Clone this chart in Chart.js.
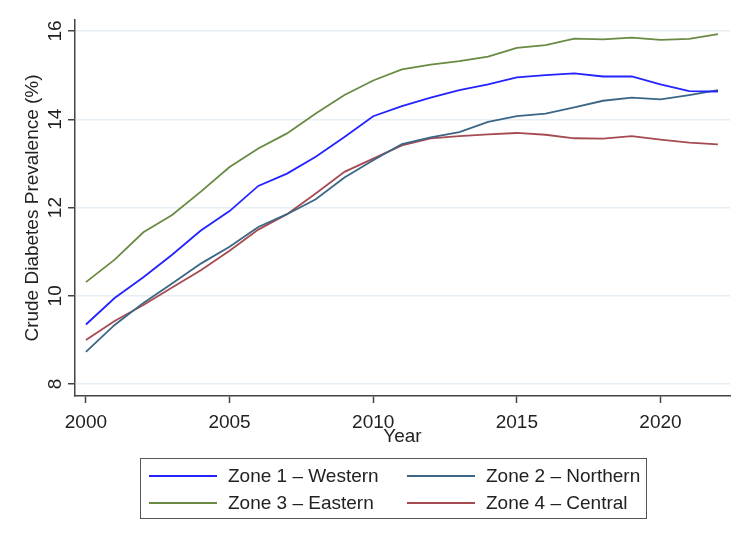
<!DOCTYPE html>
<html>
<head>
<meta charset="utf-8">
<script src="https://cdn.jsdelivr.net/npm/chart.js@4/dist/chart.umd.min.js"></script>
<style>
  html, body { margin: 0; padding: 0; background: #ffffff; }
  #wrap { position: relative; width: 750px; height: 546px; font-family: "Liberation Sans", Arial, sans-serif; color: #222; }
  #c { position: absolute; left: 0; top: 0; }
  #legend { position: absolute; left: 140px; top: 458px; width: 505px; height: 59px; border: 1.5px solid #555; box-sizing: content-box; }
  .sw { position: absolute; width: 68px; height: 2px; }
  .lt { position: absolute; font-size: 19px; line-height: 22px; white-space: nowrap; color: #222; }
</style>
</head>
<body>
<div id="wrap">
  <canvas id="c" width="750" height="546"></canvas>
  <div id="legend"></div>
</div>
<script>
const years = [2000,2001,2002,2003,2004,2005,2006,2007,2008,2009,2010,2011,2012,2013,2014,2015,2016,2017,2018,2019,2020,2021,2022];
const zone1Western  = [9.35, 9.95, 10.42, 10.93, 11.48, 11.92, 12.49, 12.77, 13.15, 13.60, 14.07, 14.30, 14.49, 14.66, 14.79, 14.95, 15.00, 15.04, 14.97, 14.97, 14.79, 14.64, 14.63];
const zone2Northern = [8.73, 9.34, 9.84, 10.28, 10.73, 11.11, 11.56, 11.85, 12.19, 12.68, 13.07, 13.44, 13.59, 13.71, 13.94, 14.07, 14.13, 14.27, 14.42, 14.49, 14.45, 14.55, 14.66];
const zone3Eastern  = [10.31, 10.82, 11.44, 11.83, 12.36, 12.92, 13.34, 13.68, 14.13, 14.55, 14.88, 15.13, 15.24, 15.32, 15.42, 15.62, 15.68, 15.83, 15.81, 15.85, 15.80, 15.82, 15.93];
const zone4Central  = [9.00, 9.43, 9.79, 10.19, 10.58, 11.02, 11.50, 11.85, 12.32, 12.81, 13.11, 13.41, 13.57, 13.62, 13.66, 13.69, 13.65, 13.57, 13.56, 13.62, 13.54, 13.47, 13.43];
const seriesLabels = ["Zone 1 \u2013 Western", "Zone 2 \u2013 Northern", "Zone 3 \u2013 Eastern", "Zone 4 \u2013 Central"];
const seriesColors = ["#2323ff", "#3b6686", "#6a8a44", "#a64a52"];
const xTicks = [2000, 2005, 2010, 2015, 2020];
const yTicks = [8, 10, 12, 14, 16];

const seriesValues = [zone1Western, zone2Northern, zone3Eastern, zone4Central];
const FONT = "'Liberation Sans', Arial, sans-serif";
const TXT = "#222";
const AX = "#444";

const datasets = seriesValues.map((vals, i) => ({
  label: seriesLabels[i],
  data: years.map((y, k) => ({ x: y, y: vals[k] })),
  borderColor: seriesColors[i],
  backgroundColor: seriesColors[i],
  borderWidth: 1.8,
  pointRadius: 0,
  tension: 0,
  fill: false
}));

new Chart(document.getElementById('c'), {
  type: 'line',
  data: { datasets },
  options: {
    responsive: false,
    animation: false,
    devicePixelRatio: 1,
    layout: { padding: { left: 0, right: 20, top: 20, bottom: 98 } },
    plugins: { legend: { display: false }, tooltip: { enabled: false } },
    scales: {
      x: {
        type: 'linear',
        min: 1999.62,
        max: 2022.42,
        afterBuildTicks: s => { s.ticks = xTicks.map(v => ({ value: v })); },
        afterFit: s => { s.height = 52; },
        grid: { drawOnChartArea: false, drawTicks: true, tickLength: 7, tickColor: AX, tickWidth: 1.5 },
        border: { display: true, color: AX, width: 1.5 },
        ticks: { color: TXT, font: { family: FONT, size: 19 }, padding: 8, maxRotation: 0, minRotation: 0, callback: v => String(v) },
        title: { display: true, text: 'Year', color: TXT, font: { family: FONT, size: 19 }, padding: 0 }
      },
      y: {
        type: 'linear',
        min: 7.73,
        max: 16.25,
        afterBuildTicks: s => { s.ticks = yTicks.map(v => ({ value: v })); },
        afterFit: s => { s.width = 75; },
        grid: { drawOnChartArea: true, color: '#e6eef4', lineWidth: 1.5, drawTicks: true, tickLength: 7, tickColor: AX, tickWidth: 1.5 },
        border: { display: true, color: AX, width: 1.5 },
        ticks: { color: TXT, font: { family: FONT, size: 19 }, padding: 2, minRotation: 90, maxRotation: 90, crossAlign: 'center', callback: v => String(v) },
        title: { display: true, text: 'Crude Diabetes Prevalence (%)', color: TXT, font: { family: FONT, size: 19 }, padding: { top: 21, bottom: 0 } }
      }
    }
  }
});

// Legend (HTML, built from the series arrays)
const legend = document.getElementById('legend');
const colX = [[8, 87], [266, 345]];   // [swatch left, text left] relative to legend box
const rowY = [17, 44];                 // swatch centre y relative to legend box
seriesLabels.forEach((lab, i) => {
  const col = i % 2, row = Math.floor(i / 2);
  const sw = document.createElement('div');
  sw.className = 'sw';
  sw.style.left = colX[col][0] + 'px';
  sw.style.top = (rowY[row] - 1) + 'px';
  sw.style.background = seriesColors[i];
  legend.appendChild(sw);
  const t = document.createElement('div');
  t.className = 'lt';
  t.textContent = lab;
  t.style.left = colX[col][1] + 'px';
  t.style.top = (rowY[row] - 11) + 'px';
  legend.appendChild(t);
});
</script>
</body>
</html>
